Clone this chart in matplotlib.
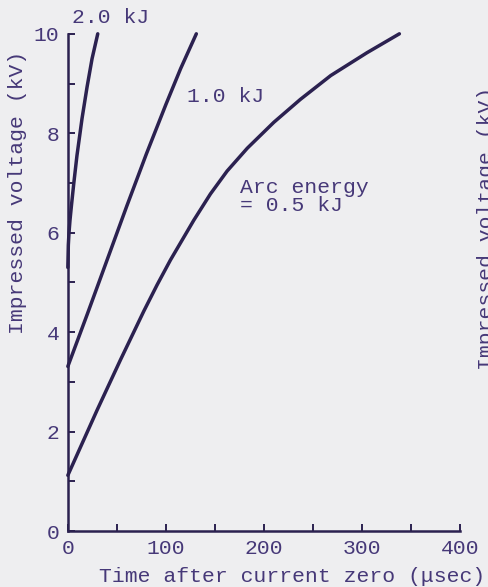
import numpy as np
import matplotlib.pyplot as plt

# curves: time (usec) and impressed voltage (kV)
t_05 = [0, 29.8, 53.6, 77.4, 91, 104.6, 128.4, 145.4, 162.4, 183, 210, 237, 268, 305, 338]
v_05 = [1.12, 2.43, 3.44, 4.42, 4.95, 5.45, 6.25, 6.78, 7.24, 7.70, 8.22, 8.68, 9.16, 9.62, 10.0]

t_10 = [0, 20, 40, 60, 80, 100, 115, 131]
v_10 = [3.31, 4.37, 5.45, 6.53, 7.58, 8.58, 9.30, 10.0]

t_20 = [0, 0.5, 1.2, 2.2, 3.6, 6, 9.3, 14.5, 19.6, 24.7, 30.5]
v_20 = [5.3, 5.75, 6.0, 6.25, 6.53, 6.98, 7.55, 8.30, 8.93, 9.50, 10.0]

xticks = [0, 100, 200, 300, 400]
yticks = [0, 2, 4, 6, 8, 10]

bg = "#eeeef0"
ink = "#2b2150"
txt = "#463878"
font = "Liberation Mono"
fs = 15.4

fig = plt.figure(figsize=(4.88, 5.87), dpi=100, facecolor=bg)
ax = fig.add_axes([0.139, 0.0954, 0.804, 0.847])
ax.set_facecolor(bg)

for t, v in [(t_05, v_05), (t_10, v_10), (t_20, v_20)]:
    ax.plot(t, v, color=ink, lw=2.5, solid_capstyle="round", solid_joinstyle="round", clip_on=False)

ax.set_xlim(0, 400)
ax.set_ylim(0, 10)
ax.set_xticks(xticks)
ax.set_yticks(yticks)
ax.set_xticks(np.arange(50, 400, 100), minor=True)
ax.set_yticks(np.arange(1, 10, 2), minor=True)

for s in ["top", "right"]:
    ax.spines[s].set_visible(False)
for s in ["left", "bottom"]:
    ax.spines[s].set_linewidth(1.8)
    ax.spines[s].set_color(ink)

ax.tick_params(which="both", direction="in", length=5, width=1.4, color=ink,
               labelcolor=txt, labelsize=fs, pad=6)
for lab in ax.get_xticklabels() + ax.get_yticklabels():
    lab.set_fontfamily(font)

# curve labels
ax.text(4, 10.32, "2.0 kJ", fontsize=fs, family=font, color=txt, va="center", clip_on=False)
ax.text(122, 8.73, "1.0 kJ", fontsize=fs, family=font, color=txt, va="center")
ax.text(175.5, 6.90, "Arc energy", fontsize=fs, family=font, color=txt, va="center")
ax.text(175.5, 6.54, "= 0.5 kJ", fontsize=fs, family=font, color=txt, va="center")

fig.text(18 / 488, 1 - 192 / 587, "Impressed voltage (kV)", rotation=90, fontsize=fs,
         family=font, color=txt, ha="center", va="center")
fig.text(485 / 488, 1 - 577 / 587, "Time after current zero (\u03bcsec)", fontsize=fs,
         family=font, color=txt, ha="right", va="center")
# label of the neighbouring panel, cut by the page edge
fig.text(487 / 488, 1 - 228 / 587, "Impressed voltage (kV)", rotation=90, fontsize=fs,
         family=font, color=txt, ha="center", va="center")

fig.savefig("out.png", dpi=100, facecolor=bg)
